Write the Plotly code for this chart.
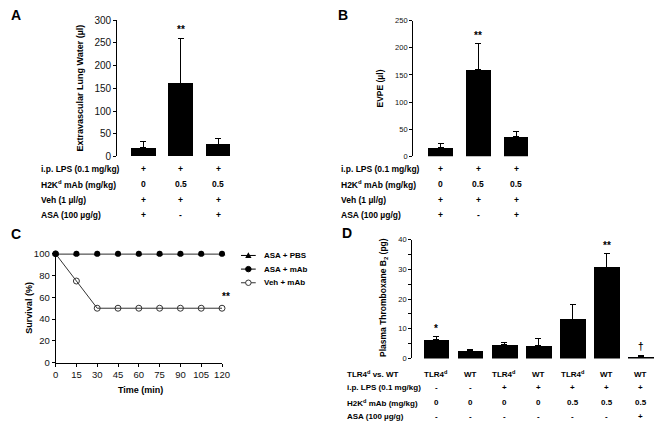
import plotly.graph_objects as go

W, H = 665, 431

# ---- data ----
# panel A: extravascular lung water
a_cats = [0, 1, 2]
a_means = [18.5, 161.5, 26]
a_err = [13.5, 98.5, 12.5]
a_lps = ["+", "+", "+"]
a_mab = ["0", "0.5", "0.5"]
a_veh = ["+", "+", "+"]
a_asa = ["+", "-", "+"]

# panel B: EVPE
b_cats = [0, 1, 2]
b_means = [16.5, 159.5, 36]
b_err = [6.5, 47.5, 10.5]
b_lps = ["+", "+", "+"]
b_mab = ["0", "0.5", "0.5"]
b_veh = ["+", "+", "+"]
b_asa = ["+", "-", "+"]

# panel C: survival
times = [0, 15, 30, 45, 60, 75, 90, 105, 120]
surv_asa_pbs = [100, 100, 100, 100, 100, 100, 100, 100, 100]
surv_asa_mab = [100, 100, 100, 100, 100, 100, 100, 100, 100]
surv_veh_mab = [100, 75, 50, 50, 50, 50, 50, 50, 50]
legend_names = ["ASA + PBS", "ASA + mAb", "Veh + mAb"]

# panel D: plasma thromboxane B2
d_cats = [0, 1, 2, 3, 4, 5, 6]
d_means = [6.3, 2.6, 4.7, 4.4, 13.3, 30.8, 0.6]
d_err = [1.1, 0.5, 0.7, 2.3, 4.8, 4.6, 0.5]
d_tlr = ["TLR4<sup>d</sup>", "WT", "TLR4<sup>d</sup>", "WT", "TLR4<sup>d</sup>", "WT", "WT"]
d_lps = ["-", "-", "+", "+", "+", "+", "+"]
d_mab = ["0", "0", "0", "0", "0.5", "0.5", "0.5"]
d_asa = ["-", "-", "-", "-", "-", "-", "+"]

FONT = "Liberation Sans, Arial, sans-serif"


def px_x(p):
    return p / W


def px_y(p):
    return 1 - p / H


fig = go.Figure()


def add_bars(means, err, cats, xa, ya, width):
    fig.add_trace(go.Bar(
        x=cats, y=means, xaxis=xa, yaxis=ya, width=width,
        marker=dict(color="black", line=dict(width=0)),
        error_y=dict(type="data", symmetric=False, array=err,
                     arrayminus=[0] * len(err), color="black",
                     thickness=1, width=3),
        showlegend=False,
    ))


add_bars(a_means, a_err, a_cats, "x", "y", 0.66)
add_bars(b_means, b_err, b_cats, "x2", "y2", 0.66)
add_bars(d_means, d_err, d_cats, "x4", "y4", 0.75)

# survival curves
styles = {
    "Veh + mAb": dict(line="#333", marker=dict(symbol="circle-open", size=6, color="#333", line=dict(width=1))),
    "ASA + mAb": dict(line="black", marker=dict(symbol="circle", size=6, color="black")),
    "ASA + PBS": dict(line="black", marker=dict(symbol="triangle-up", size=6, color="black")),
}
for name, ys in [("Veh + mAb", surv_veh_mab), ("ASA + mAb", surv_asa_mab), ("ASA + PBS", surv_asa_pbs)]:
    st = styles[name]
    fig.add_trace(go.Scatter(
        x=times, y=ys, xaxis="x3", yaxis="y3", name=name,
        mode="lines+markers", cliponaxis=False, showlegend=False,
        line=dict(color=st["line"], width=1), marker=st["marker"],
    ))

ann = []
shapes = []


def txt(x, y, s, size=9, bold=True, xref="paper", xanchor="center", yanchor="middle", angle=0):
    ann.append(dict(x=x, y=y, xref=xref, yref="paper", text=s, showarrow=False,
                    xanchor=xanchor, yanchor=yanchor, textangle=angle,
                    font=dict(family=FONT, size=size, color="black",
                              weight="bold" if bold else "normal")))


def table(rows, labels, ys, label_x, xref, cats, size):
    for vals, lab, y in zip(rows, labels, ys):
        txt(px_x(label_x), px_y(y), lab, size=size, xanchor="left")
        for c, v in zip(cats, vals):
            txt(c, px_y(y), v, size=size, xref=xref)


labels4 = ["i.p. LPS (0.1 mg/kg)", "H2K<sup>d</sup> mAb (mg/kg)", "Veh (1 µl/g)", "ASA (100 µg/g)"]
table([a_lps, a_mab, a_veh, a_asa], labels4, [167, 183, 199, 214], 37, "x", a_cats, 8.5)
table([b_lps, b_mab, b_veh, b_asa], labels4, [167, 183, 199, 214], 342, "x2", b_cats, 8.5)
table([d_tlr, d_lps, d_mab, d_asa],
      ["TLR4<sup>d</sup> vs. WT", "i.p. LPS (0.1 mg/kg)", "H2K<sup>d</sup> mAb (mg/kg)", "ASA (100 µg/g)"],
      [378, 392, 407, 421], 348, "x4", d_cats, 8)

# panel letters
txt(px_x(6), px_y(9), "A", size=14, xanchor="left")
txt(px_x(339), px_y(9), "B", size=14, xanchor="left")
txt(px_x(6), px_y(234), "C", size=14, xanchor="left")
txt(px_x(343), px_y(233), "D", size=14, xanchor="left")

# axis titles
txt(px_x(78), px_y(84), "Extravascular Lung Water (µl)", angle=-90)
txt(px_x(383), px_y(85), "EVPE (µl)", size=8.5, angle=-90)
txt(px_x(27), px_y(310), "Survival (%)", angle=-90)
txt(px_x(140), px_y(394), "Time (min)")
txt(px_x(387), px_y(299), "Plasma Thromboxane B<sub>2</sub> (pg)", size=8.5, angle=-90)

# hand-drawn legend for panel C (compact rows like the original)
for name, row_y in zip(legend_names, [256, 270, 284]):
    st = styles[name]
    shapes.append(dict(type="line", xref="paper", yref="paper",
                       x0=px_x(242), x1=px_x(257), y0=px_y(row_y), y1=px_y(row_y),
                       line=dict(color=st["line"], width=1)))
    cx, cy, r = 249.5, row_y, 2.8
    sym = st["marker"]["symbol"]
    if sym == "triangle-up":
        path = "M {} {} L {} {} L {} {} Z".format(
            px_x(cx), px_y(cy - 3.2), px_x(cx - 3.2), px_y(cy + 2.5), px_x(cx + 3.2), px_y(cy + 2.5))
        shapes.append(dict(type="path", xref="paper", yref="paper", path=path,
                           fillcolor="black", line=dict(width=0)))
    else:
        shapes.append(dict(type="circle", xref="paper", yref="paper",
                           x0=px_x(cx - r), x1=px_x(cx + r), y0=px_y(cy + r), y1=px_y(cy - r),
                           fillcolor="black" if sym == "circle" else "white",
                           line=dict(color=st["line"], width=1)))
    txt(px_x(263), px_y(row_y), name, size=8, xanchor="left")

# significance marks
sig = [("x", "y", 1, a_means[1] + a_err[1], "**"),
       ("x2", "y2", 1, b_means[1] + b_err[1], "**"),
       ("x4", "y4", 0, d_means[0] + d_err[0], "*"),
       ("x4", "y4", 5, d_means[5] + d_err[5], "**"),
       ("x4", "y4", 6, d_means[6] + d_err[6], "†"),
       ("x3", "y3", 120, surv_veh_mab[-1], "**")]
for xr, yr, xv, yv, s in sig:
    ann.append(dict(x=xv, y=yv, xref=xr, yref=yr, text=s, showarrow=False,
                    yanchor="bottom", yshift=(4 if xr == "x3" else 1),
                    xshift=(4 if xr == "x3" else 0),
                    font=dict(family=FONT, size=10, color="black", weight="bold")))

hidden_x = dict(showline=False, showticklabels=False, ticks="", showgrid=False, zeroline=False)


def axis_style(size, ticklen=3):
    return dict(showline=True, linecolor="black", linewidth=1, ticks="outside", ticklen=ticklen,
                tickcolor="black", showgrid=False, zeroline=False,
                tickfont=dict(family=FONT, size=size, color="#111"))


fig.update_layout(
    width=W, height=H, margin=dict(l=0, r=0, t=0, b=0),
    paper_bgcolor="white", plot_bgcolor="white",
    font=dict(family=FONT, color="black"),
    bargap=0, showlegend=False,
    xaxis=dict(domain=[px_x(116), px_x(235)], range=[-0.705, 2.43], anchor="y", **hidden_x),
    yaxis=dict(domain=[px_y(154.3), px_y(14.7)], range=[0, 300], dtick=50, anchor="x", **axis_style(10)),
    xaxis2=dict(domain=[px_x(417), px_x(540)], range=[-0.74, 2.48], anchor="y2", **hidden_x),
    yaxis2=dict(domain=[px_y(154.3), px_y(15)], range=[0, 250], dtick=50, anchor="x2", **axis_style(7.5)),
    xaxis3=dict(domain=[px_x(53.5), px_x(222.7)], range=[0, 120], dtick=15, anchor="y3", **axis_style(9.5)),
    yaxis3=dict(domain=[px_y(366), px_y(254.3)], range=[0, 100], dtick=20, anchor="x3", **axis_style(9.5)),
    xaxis4=dict(domain=[px_x(415.5), px_x(663)], range=[-0.72, 6.42], anchor="y4", **hidden_x),
    yaxis4=dict(domain=[px_y(361.7), px_y(240)], range=[0, 40], dtick=10, anchor="x4",
                minor=dict(dtick=5, ticks="outside", ticklen=2.5, tickcolor="black"), **axis_style(7.5, 2.5)),
    annotations=ann,
    shapes=shapes,
)

# the page's default 8px body margin would shift the whole figure
fig.write_html("out.html", config={"displayModeBar": False},
               post_script="document.body.style.margin='0px';")
